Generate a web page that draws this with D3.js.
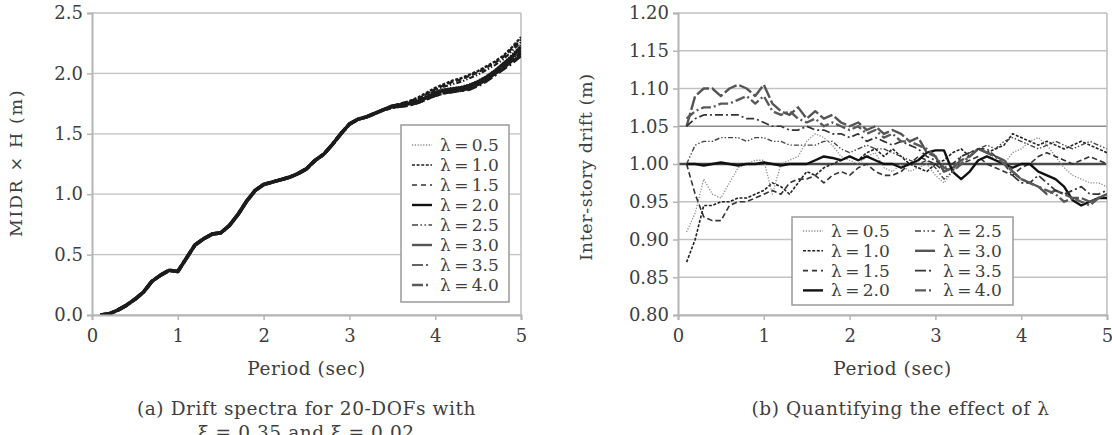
<!DOCTYPE html>
<html>
<head>
<meta charset="utf-8">
<script src="https://cdn.jsdelivr.net/npm/d3@7"></script>
<style>
  body { margin: 0; background: #fff; }
  svg text { font-family: "DejaVu Serif", serif; fill: #3e3e3e; }
</style>
</head>
<body>
<svg width="1112" height="435"></svg>
<script>
// ---- data ----
const lambdas = ["0.5", "1.0", "1.5", "2.0", "2.5", "3.0", "3.5", "4.0"];

// (a) drift spectra: all curves coincide up to ~3.4 s, then fan out
const trunkPeriods = [0.1, 0.2, 0.3, 0.4, 0.5, 0.6, 0.7, 0.8, 0.9, 1.0, 1.1, 1.2, 1.3, 1.4, 1.5, 1.6, 1.7,
  1.8, 1.9, 2.0, 2.1, 2.2, 2.3, 2.4, 2.5, 2.6, 2.7, 2.8, 2.9, 3.0, 3.1, 3.2, 3.3, 3.4];
const trunkMidr = [0.00, 0.01, 0.04, 0.08, 0.13, 0.19, 0.28, 0.33, 0.37, 0.36, 0.47, 0.58, 0.63, 0.67, 0.68,
  0.74, 0.83, 0.94, 1.03, 1.08, 1.10, 1.12, 1.14, 1.17, 1.21, 1.28, 1.33, 1.41, 1.50, 1.58, 1.62, 1.64, 1.67, 1.70];
const tailPeriods = [3.5, 3.6, 3.7, 3.8, 3.9, 4.0, 4.1, 4.2, 4.3, 4.4, 4.5, 4.6, 4.7, 4.8, 4.9, 5.0];
const tailMidr = [
  [1.73, 1.74, 1.76, 1.78, 1.81, 1.85, 1.87, 1.88, 1.89, 1.91, 1.94, 1.98, 2.03, 2.09, 2.16, 2.24],
  [1.73, 1.75, 1.77, 1.80, 1.84, 1.88, 1.91, 1.94, 1.96, 1.99, 2.02, 2.06, 2.10, 2.15, 2.22, 2.30],
  [1.73, 1.75, 1.77, 1.79, 1.83, 1.87, 1.90, 1.93, 1.95, 1.98, 2.01, 2.05, 2.09, 2.14, 2.21, 2.28],
  [1.73, 1.74, 1.75, 1.77, 1.80, 1.84, 1.86, 1.87, 1.88, 1.90, 1.93, 1.97, 2.02, 2.08, 2.14, 2.22],
  [1.73, 1.74, 1.76, 1.79, 1.82, 1.86, 1.89, 1.91, 1.93, 1.96, 1.99, 2.03, 2.07, 2.12, 2.19, 2.26],
  [1.72, 1.73, 1.74, 1.76, 1.79, 1.82, 1.84, 1.85, 1.86, 1.88, 1.91, 1.95, 2.00, 2.05, 2.11, 2.17],
  [1.72, 1.74, 1.75, 1.77, 1.80, 1.83, 1.85, 1.86, 1.87, 1.89, 1.92, 1.96, 2.01, 2.06, 2.12, 2.19],
  [1.72, 1.73, 1.74, 1.76, 1.79, 1.82, 1.84, 1.85, 1.86, 1.87, 1.90, 1.94, 1.99, 2.04, 2.09, 2.15]
];

// (b) inter-story drift for each lambda
const periods = [0.1, 0.2, 0.3, 0.4, 0.5, 0.6, 0.7, 0.8, 0.9, 1.0, 1.1, 1.2, 1.3, 1.4, 1.5, 1.6, 1.7, 1.8, 1.9, 2.0,
  2.1, 2.2, 2.3, 2.4, 2.5, 2.6, 2.7, 2.8, 2.9, 3.0, 3.1, 3.2, 3.3, 3.4, 3.5, 3.6, 3.7, 3.8, 3.9, 4.0,
  4.1, 4.2, 4.3, 4.4, 4.5, 4.6, 4.7, 4.8, 4.9, 5.0];
const drift05 = [0.910, 0.935, 0.980, 0.960, 0.955, 0.975, 0.995, 1.000, 1.005, 1.005, 0.960, 1.000, 1.005, 1.010, 1.030,
  1.040, 1.035, 1.025, 1.010, 1.005, 1.000, 1.010, 1.015, 0.995, 0.990, 1.000, 0.990, 0.995, 1.000, 0.985,
  0.975, 0.990, 1.005, 1.010, 1.020, 1.015, 1.005, 1.000, 1.015, 1.020, 1.030, 1.035, 1.025, 1.010, 0.995,
  0.985, 0.980, 0.975, 0.975, 0.970];
const drift10 = [0.870, 0.900, 0.945, 0.945, 0.950, 0.950, 0.955, 0.955, 0.960, 0.965, 0.975, 0.970, 0.960, 0.975, 0.990,
  0.985, 0.995, 1.000, 1.005, 1.010, 1.005, 1.015, 1.020, 1.010, 1.020, 1.010, 1.000, 0.995, 0.990, 1.000,
  1.005, 1.015, 1.020, 1.010, 1.020, 1.015, 1.020, 1.025, 1.040, 1.035, 1.030, 1.025, 1.030, 1.025, 1.020,
  1.025, 1.030, 1.025, 1.020, 1.015];
const drift15 = [1.000, 0.960, 0.930, 0.925, 0.925, 0.945, 0.950, 0.950, 0.955, 0.960, 0.965, 0.960, 0.975, 0.980, 0.980,
  0.985, 0.975, 0.985, 0.990, 0.985, 0.995, 1.000, 0.990, 0.985, 0.985, 0.990, 1.000, 1.010, 1.005, 1.000,
  0.990, 0.995, 1.000, 1.005, 1.010, 1.000, 0.995, 0.990, 0.985, 0.995, 1.000, 1.010, 1.015, 1.010, 1.005,
  1.000, 1.005, 1.010, 1.005, 1.000];
const drift20 = [1.000, 1.000, 0.998, 1.000, 1.002, 1.000, 0.998, 1.000, 1.000, 1.002, 1.000, 0.998, 1.000, 1.000, 1.000,
  1.005, 1.010, 1.008, 1.005, 1.010, 1.005, 1.010, 1.005, 1.000, 1.000, 0.995, 1.000, 1.005, 1.015, 1.018,
  1.018, 0.990, 0.980, 0.990, 1.005, 1.010, 1.005, 1.000, 0.995, 1.000, 1.000, 0.990, 0.985, 0.980, 0.970,
  0.952, 0.945, 0.950, 0.955, 0.955];
const drift25 = [1.000, 1.025, 1.030, 1.030, 1.035, 1.035, 1.035, 1.030, 1.035, 1.035, 1.030, 1.030, 1.025, 1.025, 1.025,
  1.025, 1.030, 1.030, 1.020, 1.015, 1.020, 1.025, 1.020, 1.020, 1.015, 1.010, 1.005, 1.000, 1.005, 0.995,
  0.980, 0.990, 1.010, 1.015, 1.020, 1.025, 1.020, 1.030, 1.035, 1.030, 1.025, 1.020, 1.025, 1.030, 1.025,
  1.020, 1.025, 1.030, 1.025, 1.020];
const drift30 = [1.050, 1.090, 1.100, 1.100, 1.090, 1.100, 1.105, 1.100, 1.090, 1.105, 1.080, 1.070, 1.065, 1.075, 1.060,
  1.070, 1.060, 1.065, 1.055, 1.050, 1.055, 1.045, 1.050, 1.040, 1.045, 1.040, 1.030, 1.035, 1.015, 1.010,
  0.990, 0.995, 1.005, 1.010, 1.020, 1.015, 1.010, 1.005, 0.990, 0.980, 0.975, 0.970, 0.960, 0.965, 0.960,
  0.955, 0.955, 0.950, 0.955, 0.960];
const drift35 = [1.050, 1.060, 1.065, 1.065, 1.065, 1.065, 1.065, 1.060, 1.060, 1.055, 1.050, 1.050, 1.045, 1.045, 1.050,
  1.045, 1.045, 1.040, 1.040, 1.035, 1.040, 1.030, 1.035, 1.030, 1.025, 1.030, 1.025, 1.020, 1.010, 1.005,
  0.995, 1.000, 1.010, 1.015, 1.020, 1.020, 1.010, 1.000, 0.985, 0.975, 0.975, 0.985, 0.975, 0.965, 0.960,
  0.965, 0.970, 0.960, 0.960, 0.965];
const drift40 = [1.060, 1.070, 1.075, 1.075, 1.080, 1.080, 1.085, 1.090, 1.080, 1.090, 1.070, 1.065, 1.070, 1.060, 1.055,
  1.060, 1.050, 1.055, 1.050, 1.045, 1.050, 1.040, 1.045, 1.035, 1.040, 1.030, 1.030, 1.025, 1.020, 1.010,
  0.995, 0.990, 1.000, 1.010, 1.020, 1.015, 1.010, 1.000, 0.990, 0.980, 0.975, 0.970, 0.965, 0.960, 0.950,
  0.955, 0.950, 0.945, 0.955, 0.960];
const driftSeries = [drift05, drift10, drift15, drift20, drift25, drift30, drift35, drift40];

const xTicks = [0, 1, 2, 3, 4, 5];
const midrTicks = [0, 0.5, 1.0, 1.5, 2.0, 2.5];
const driftTicks = [0.80, 0.85, 0.90, 0.95, 1.00, 1.05, 1.10, 1.15, 1.20];

// ---- line styles per lambda ----
const styles = [
  { color: "#8a8a8a", width: 1.3, dash: "1.2,1.6", legendDash: "1.2,1.6" },
  { color: "#222", width: 1.6, dash: "3,1.6", legendDash: "3,1.6" },
  { color: "#333", width: 1.6, dash: "5.5,3", legendDash: "5,4" },
  { color: "#111", width: 2.4, dash: null, legendDash: null },
  { color: "#444", width: 1.4, dash: "5,2,1.4,2,1.4,2", legendDash: "6,2.5,1.5,2.5,1.5,2.5" },
  { color: "#555", width: 2.4, dash: "14,3", legendDash: null },
  { color: "#333", width: 1.7, dash: "8,3,2,3", legendDash: "11,3,2,4" },
  { color: "#5a5a5a", width: 2.4, dash: "10,3,2,3", legendDash: "11,3,2,4" }
];

const svg = d3.select("svg");

function lambdaLabel(l) {
  return "\u03bb\u2009=\u2009" + l;
}

function drawPanel(p) {
  const x = d3.scaleLinear().domain([0, 5]).range([p.left, p.right]);
  const y = d3.scaleLinear().domain(p.yDomain).range([p.bottom, p.top]);
  const g = svg.append("g");

  // grid lines
  g.selectAll(".grid").data(p.yTicks).enter().append("line")
    .attr("x1", p.left).attr("x2", p.right)
    .attr("y1", (d) => y(d)).attr("y2", (d) => y(d))
    .attr("stroke", (d) => p.gridColor(d))
    .attr("stroke-width", (d) => p.gridWidth(d));

  // right border
  g.append("line")
    .attr("x1", p.right).attr("x2", p.right)
    .attr("y1", p.top).attr("y2", p.bottom)
    .attr("stroke", "#bdbdbd").attr("stroke-width", 1.5);

  // clip
  const clipId = "clip" + p.id;
  svg.append("clipPath").attr("id", clipId).append("rect")
    .attr("x", p.left).attr("y", p.top - 2)
    .attr("width", p.right - p.left).attr("height", p.bottom - p.top + 2);

  const line = d3.line().x((d) => x(d[0])).y((d) => y(d[1]));
  g.append("g").attr("clip-path", "url(#" + clipId + ")")
    .selectAll("path").data(p.series).enter().append("path")
    .attr("d", (d) => line(d))
    .attr("fill", "none")
    .attr("stroke", (d, i) => p.lineColor || styles[i].color)
    .attr("stroke-width", (d, i) => styles[i].width * p.widthScale)
    .attr("stroke-dasharray", (d, i) => styles[i].dash)
    .attr("stroke-linejoin", "round");

  // axes
  const yAxis = d3.axisLeft(y).tickValues(p.yTicks).tickSize(5).tickPadding(4)
    .tickFormat(d3.format(p.yFormat));
  const ya = g.append("g").attr("transform", "translate(" + p.left + ",0)").call(yAxis);
  const xAxis = d3.axisBottom(x).tickValues(xTicks).tickSize(5).tickPadding(9)
    .tickFormat(d3.format("d"));
  const xa = g.append("g").attr("transform", "translate(0," + p.bottom + ")").call(xAxis);
  [ya, xa].forEach((a) => {
    a.select(".domain").attr("stroke", "#b5b5b5").attr("stroke-width", 2);
    a.selectAll(".tick line").attr("stroke", "#b5b5b5").attr("stroke-width", 1.5);
    a.selectAll(".tick text").attr("font-family", "DejaVu Serif").attr("font-size", 18)
      .attr("fill", "#3e3e3e");
  });

  // axis titles
  const cx = (p.left + p.right) / 2;
  g.append("text").attr("x", cx).attr("y", 375).attr("text-anchor", "middle")
    .attr("font-size", 18.5).attr("letter-spacing", 0.6).text("Period (sec)");
  g.append("text")
    .attr("transform", "translate(" + p.yLabelX + "," + p.yLabelY + ") rotate(-90)")
    .attr("text-anchor", "middle").attr("font-size", 17.5).attr("letter-spacing", p.yLabelSpacing)
    .text(p.yLabel);

  // caption
  p.caption.forEach((c, i) => {
    g.append("text").attr("x", cx + p.captionShift).attr("y", 415 + i * 24)
      .attr("text-anchor", "middle").attr("font-size", 18.5).attr("letter-spacing", 0.6).text(c);
  });

  // legend
  const L = p.legend;
  g.append("rect").attr("x", L.x).attr("y", L.y).attr("width", L.w).attr("height", L.h)
    .attr("fill", "#fff").attr("stroke", "#9a9a9a").attr("stroke-width", 1.5);
  lambdas.forEach((l, i) => {
    const col = Math.floor(i / L.rows);
    const row = i % L.rows;
    const lx = L.x + 11 + col * L.colW;
    const ly = L.y + L.firstRow + row * L.rowH;
    g.append("line").attr("x1", lx).attr("x2", lx + 20).attr("y1", ly).attr("y2", ly)
      .attr("stroke", styles[i].color).attr("stroke-width", styles[i].width)
      .attr("stroke-dasharray", styles[i].legendDash);
    g.append("text").attr("x", lx + 28).attr("y", ly + 6).attr("font-size", 17)
      .text(lambdaLabel(l));
  });
}

// panel (a)
const midrSeries = tailMidr.map((tail) =>
  trunkPeriods.map((t, j) => [t, trunkMidr[j]]).concat(tailPeriods.map((t, j) => [t, tail[j]])));

drawPanel({
  id: "a", left: 92, right: 521, top: 13, bottom: 315,
  yDomain: [0, 2.5], yTicks: midrTicks, yFormat: ".1f",
  gridColor: () => "#c2c2c2", gridWidth: () => 1.3,
  series: midrSeries, widthScale: 1.5, lineColor: "#1c1c1c",
  yLabel: "MIDR \u00d7 H (m)", yLabelX: 22, yLabelY: 163, yLabelSpacing: 1.6,
  caption: ["(a) Drift spectra for 20-DOFs with", "\u03be = 0.35 and \u03be = 0.02"], captionShift: 0,
  legend: { x: 401, y: 125, w: 108, h: 177, rows: 8, colW: 0, rowH: 20, firstRow: 20 }
});

// panel (b)
drawPanel({
  id: "b", left: 678, right: 1107, top: 13, bottom: 315,
  yDomain: [0.8, 1.2], yTicks: driftTicks, yFormat: ".2f",
  gridColor: (d) => (Math.abs(d - 1.0) < 1e-9 ? "#4a4a4a" : Math.abs(d - 1.05) < 1e-9 ? "#8c8c8c" : "#c2c2c2"),
  gridWidth: (d) => (Math.abs(d - 1.0) < 1e-9 ? 2.6 : Math.abs(d - 1.05) < 1e-9 ? 1.7 : 1.3),
  series: driftSeries.map((s) => periods.map((t, j) => [t, s[j]])), widthScale: 1,
  yLabel: "Inter-story drift (m)", yLabelX: 592, yLabelY: 167, yLabelSpacing: 0.6,
  caption: ["(b) Quantifying the effect of \u03bb"], captionShift: 8,
  legend: { x: 792, y: 217, w: 221, h: 88, rows: 4, colW: 112, rowH: 19.8, firstRow: 14 }
});
</script>
</body>
</html>
